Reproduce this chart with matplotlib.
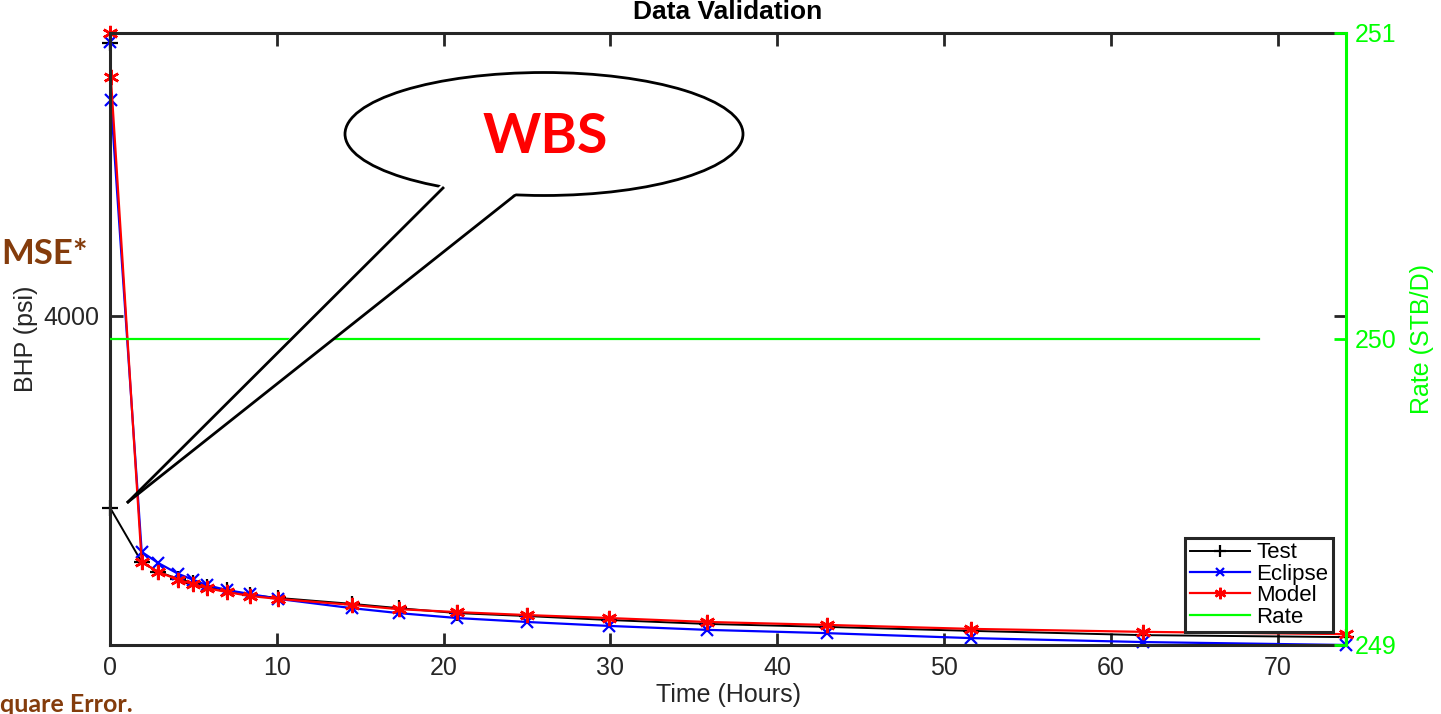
import numpy as np
import matplotlib.pyplot as plt
from matplotlib.patches import Ellipse, Polygon
from matplotlib.lines import Line2D

# Данные

t_sim = [0, 0.05, 1.9, 2.9, 4.1, 5.0, 5.8, 7.0, 8.4, 10.1, 14.5, 17.3,
         20.8, 25.0, 29.9, 35.8, 43.0, 51.6, 61.9, 74.1]
t_test = [0, 0.02, 1.9, 2.9, 4.1, 5.0, 5.8, 7.0, 8.4, 10.1, 14.5, 17.3,
          20.8, 25.0, 29.9, 35.8, 43.0, 51.6, 61.9, 74.1]

bhp_test = [4830, 3416, 3252, 3222, 3201, 3188, 3176, 3167, 3152, 3143, 3125,
            3112, 3097, 3088, 3076, 3064, 3055, 3043, 3030, 3024]
bhp_eclipse = [4833, 4656, 3283, 3249, 3216, 3198, 3182, 3167, 3155, 3140, 3112,
               3097, 3082, 3070, 3058, 3046, 3036, 3021, 3009, 3000]
bhp_model = [4860, 4726, 3252, 3222, 3198, 3185, 3173, 3161, 3149, 3140, 3122,
             3109, 3100, 3091, 3082, 3070, 3061, 3049, 3040, 3033]

t_rate = [0, 68.9]
rate = [250, 250]

grey = '#262626'
green = '#00FF00'
brown = '#843C0C'

plt.rcParams['font.family'] = ['Liberation Sans', 'DejaVu Sans']

fig = plt.figure(figsize=(14.41, 7.14), dpi=100)
ax = fig.add_axes([110 / 1441, 69 / 714, 1236 / 1441, 612 / 714])
ax2 = ax.twinx()

# Основные кривые давления

l_test, = ax.plot(t_test, bhp_test, color='black', marker='+', ms=11, mew=1.6,
                  lw=1.4, clip_on=False)
l_ecl, = ax.plot(t_sim, bhp_eclipse, color='blue', marker='x', ms=8, mew=1.6,
                 lw=1.6, clip_on=False)
l_mod, = ax.plot(t_sim, bhp_model, color='red', marker=(6, 2, 0), ms=11,
                 mew=1.8, lw=1.6, clip_on=False)
l_rate, = ax2.plot(t_rate, rate, color=green, lw=1.6)

ax.set_xlim(0, 74.1)
ax.set_ylim(3000, 4860)
ax.set_xticks(np.arange(0, 71, 10))
ax.set_yticks([4000])
ax2.set_ylim(249, 251)
ax2.set_yticks([249, 250, 251])

ax.tick_params(axis='both', direction='in', length=9, width=2, colors=grey,
               labelsize=18, top=True, pad=8)
ax.tick_params(axis='y', right=False)
ax2.tick_params(axis='y', direction='in', length=9, width=2, colors=green,
                labelsize=18, pad=6)

for side in ['left', 'bottom', 'top']:
    ax.spines[side].set_color(grey)
    ax.spines[side].set_linewidth(2.2)
ax.spines['right'].set_visible(False)
for side in ['left', 'bottom', 'top']:
    ax2.spines[side].set_visible(False)
ax2.spines['right'].set_color(green)
ax2.spines['right'].set_linewidth(2.2)

# зеркальная метка 4000 на правой оси
ax.plot([1], [4000], transform=ax.get_yaxis_transform(), marker=0, ms=9,
        mew=2, color=grey, clip_on=False)

ax.set_xlabel('Time (Hours)', fontsize=18, color=grey, labelpad=2)
ax.set_ylabel('BHP (psi)', fontsize=18, color=grey)
ax.yaxis.set_label_coords(-0.058, 0.5)
ax2.set_ylabel('Rate (STB/D)', fontsize=18, color=green, labelpad=10)

fig.text(728 / 1441, 1 - 12 / 714, 'Data Validation', fontsize=19,
         fontweight='bold', ha='center', va='center', color='black')

leg = ax2.legend([l_test, l_ecl, l_mod, l_rate],
                 ['Test', 'Eclipse', 'Model', 'Rate'],
                 loc='lower right', bbox_to_anchor=(0.9895, 0.021),
                 borderaxespad=0, fontsize=16, fancybox=False, framealpha=1,
                 edgecolor=grey, handlelength=2.7, handletextpad=0.3,
                 labelspacing=0.02, borderpad=0.2, markerscale=0.75)
leg.get_frame().set_linewidth(2.2)
leg.set_zorder(10)

# Выноска "WBS"

def fp(x, y):
    return (x / 1441, 1 - y / 714)

ell = Ellipse(fp(544, 134), 398 / 1441, 123 / 714, transform=fig.transFigure,
              facecolor='white', edgecolor='black', lw=2, zorder=20)
fig.add_artist(ell)
tail = Polygon([fp(441, 185), fp(128, 502), fp(516, 193), fp(480, 175)],
               closed=True, transform=fig.transFigure, facecolor='white',
               edgecolor='none', zorder=21)
fig.add_artist(tail)
for xy in [(443, 188), (514, 196)]:
    p0, p1 = fp(*xy), fp(128, 502)
    fig.add_artist(Line2D([p0[0], p1[0]], [p0[1], p1[1]],
                          transform=fig.transFigure, color='black', lw=2,
                          zorder=22))
fig.text(*fp(545, 137), 'WBS', fontsize=40, fontweight='bold', color='red',
         ha='center', va='center', family=['Lato', 'DejaVu Sans'], zorder=23)

# Обрывки текста слайда
fig.text(*fp(1, 254), 'MSE*', fontsize=25, fontweight='bold', color=brown,
         ha='left', va='center', family=['Lato', 'DejaVu Sans'])
fig.text(*fp(0, 704), 'quare Error.', fontsize=18, fontweight='bold',
         color=brown, ha='left', va='center', family=['Lato', 'DejaVu Sans'])

fig.savefig('out.png', dpi=100)
